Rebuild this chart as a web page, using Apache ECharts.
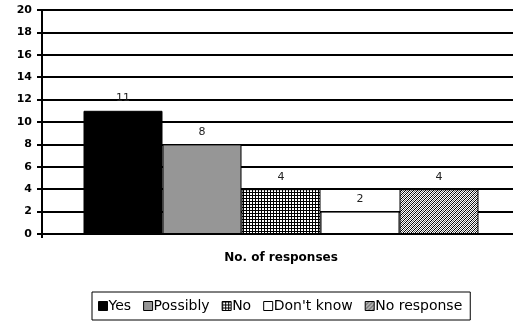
<!DOCTYPE html>
<html>
<head>
<meta charset="utf-8">
<script src="https://cdn.jsdelivr.net/npm/echarts@6/dist/echarts.min.js"></script>
<style>
  html, body { margin: 0; padding: 0; background: #fff; }
  #chart { width: 513px; height: 326px; }
</style>
</head>
<body>
<div id="chart"></div>
<script>
// Survey answers: one category, one bar per answer
const categories = ['No. of responses'];
const answers = ['Yes', 'Possibly', 'No', "Don't know", 'No response'];
const responseCounts = [11, 8, 4, 2, 4];
const yTicks = [0, 2, 4, 6, 8, 10, 12, 14, 16, 18, 20];

const FONT = '"DejaVu Sans", "Liberation Sans", sans-serif';

// Small repeating fill tiles drawn on a canvas
function makeTile(size, draw) {
  const c = document.createElement('canvas');
  c.width = size; c.height = size;
  const ctx = c.getContext('2d');
  ctx.fillStyle = '#fff';
  ctx.fillRect(0, 0, size, size);
  ctx.fillStyle = '#000';
  draw(ctx);
  return c;
}
// fine square grid
const gridTile = makeTile(3, ctx => {
  ctx.fillRect(0, 0, 3, 1);
  ctx.fillRect(0, 0, 1, 3);
});
// fine upward diagonal hatch
const hatchTile = makeTile(4, ctx => {
  for (let i = 0; i < 4; i++) {
    ctx.fillRect(i, 3 - i, 1, 1);
  }
  ctx.fillStyle = '#666';
  for (let i = 0; i < 4; i++) {
    ctx.fillRect((i + 2) % 4, 3 - i, 1, 1);
  }
});

const fills = [
  '#000000',
  '#969696',
  { image: gridTile, repeat: 'repeat' },
  '#ffffff',
  { image: hatchTile, repeat: 'repeat' }
];

const chart = echarts.init(document.getElementById('chart'), null, { renderer: 'canvas' });

const series = answers.map((name, i) => ({
  name: name,
  type: 'bar',
  data: [responseCounts[i]],
  barWidth: 79,
  barGap: '0%',
  itemStyle: { color: fills[i], borderColor: '#000', borderWidth: 1 },
  label: {
    show: true,
    position: 'top',
    distance: 7,
    fontFamily: FONT,
    fontSize: 11,
    color: '#222'
  }
}));

chart.setOption({
  animation: false,
  backgroundColor: '#fff',
  // plot area runs past the right edge of the canvas
  grid: { left: 42, right: -7, top: 10, bottom: 92, containLabel: false, outerBoundsMode: 'none' },
  xAxis: {
    type: 'category',
    data: categories,
    axisLine: { lineStyle: { color: '#000', width: 2 } },
    axisTick: { show: true, length: 4, lineStyle: { color: '#000', width: 2 } },
    axisLabel: {
      margin: 18,
      fontFamily: FONT,
      fontSize: 12,
      fontWeight: 'bold',
      color: '#000'
    }
  },
  yAxis: {
    type: 'value',
    min: yTicks[0],
    max: yTicks[yTicks.length - 1],
    interval: yTicks[1] - yTicks[0],
    axisLine: { show: true, lineStyle: { color: '#000', width: 2 } },
    axisTick: { show: true, length: 5, lineStyle: { color: '#000', width: 2 } },
    axisLabel: {
      margin: 10,
      fontFamily: FONT,
      fontSize: 11,
      fontWeight: 'bold',
      color: '#000'
    },
    splitLine: { show: true, lineStyle: { color: '#000', width: 2 } }
  },
  legend: {
    data: answers,
    left: 92,
    top: 292,
    orient: 'horizontal',
    padding: [7, 8, 7, 6],
    itemWidth: 9,
    itemHeight: 9,
    itemGap: 12,
    icon: 'rect',
    borderColor: '#000',
    borderWidth: 1,
    borderRadius: 0,
    itemStyle: { borderColor: '#000', borderWidth: 1 },
    textStyle: { fontFamily: FONT, fontSize: 14, color: '#000', padding: [0, 0, 0, -4] }
  },
  series: series
});
</script>
</body>
</html>
